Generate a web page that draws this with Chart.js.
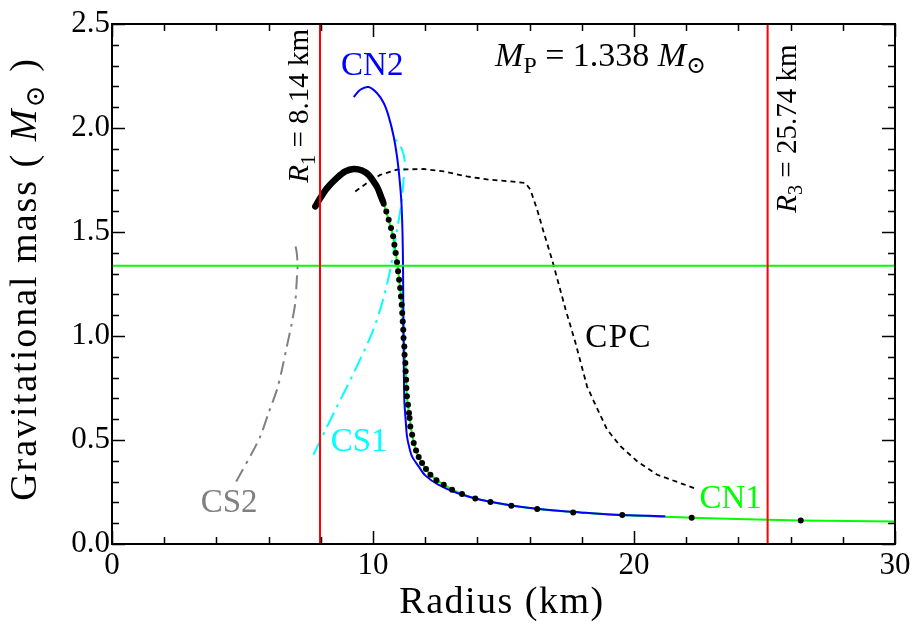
<!DOCTYPE html>
<html><head><meta charset="utf-8">
<script src="https://cdn.jsdelivr.net/npm/chart.js@4/dist/chart.umd.min.js"></script>
<style>html,body{margin:0;padding:0;background:#fff}</style>
</head><body>
<canvas id="c" width="921" height="630"></canvas>
<script>
// ---- data (radius in km, gravitational mass in solar masses) ----
const xTickValues = [0, 10, 20, 30];
const yTickValues = [0.0, 0.5, 1.0, 1.5, 2.0, 2.5];
const R1 = 7.97;      // vertical red line R1 (as drawn)
const R3 = 25.12;     // vertical red line R3 (as drawn)
const MP = 1.338;     // pulsar mass line

const cn2R = [9.26, 9.51, 9.83, 10.15, 10.41, 10.6, 10.79, 10.92, 11.02, 11.09, 11.13, 11.15, 11.17, 11.2, 11.26, 11.3, 11.38, 11.5, 11.75, 12.0, 12.5, 13.22, 14.12, 15.39, 16.67, 17.95, 19.23, 21.2];
const cn2M = [2.149, 2.184, 2.197, 2.168, 2.12, 2.056, 1.96, 1.863, 1.751, 1.639, 1.5, 1.335, 1.014, 0.694, 0.58, 0.52, 0.47, 0.42, 0.373, 0.33, 0.285, 0.245, 0.213, 0.184, 0.165, 0.152, 0.141, 0.133];

const cn1R = [10.3, 10.41, 10.6, 10.77, 10.92, 11.04, 11.12, 11.17, 11.24, 11.3, 11.38, 11.5, 11.65, 11.88, 12.2, 12.71, 13.41, 14.5, 16.29, 19.55, 22.21, 26.39, 30];
const cn1M = [1.675, 1.636, 1.559, 1.479, 1.354, 1.231, 1.11, 0.99, 0.87, 0.71, 0.63, 0.525, 0.45, 0.389, 0.333, 0.285, 0.24, 0.202, 0.168, 0.139, 0.126, 0.113, 0.108];

const denseR = [7.79, 7.98, 8.24, 8.62, 8.94, 9.26, 9.58, 9.83, 10.02, 10.18, 10.28, 10.38];
const denseM = [1.623, 1.663, 1.711, 1.76, 1.791, 1.803, 1.796, 1.775, 1.743, 1.711, 1.679, 1.647];

const dotR = [10.41,10.51,10.6,10.69,10.77,10.82,10.87,10.92,10.96,11.0,11.04,11.07,11.1,11.12,11.14,11.16,11.17,11.2,11.21,11.24,11.25,11.27,11.28,11.3,11.34,11.38,11.4,11.43,11.5,11.56,11.65,11.75,11.88,12.03,12.2,12.43,12.71,13.03,13.41,13.92,14.5,15.3,16.29,17.67,19.55,22.21,26.39];
const dotM = [1.636,1.599,1.559,1.519,1.479,1.439,1.399,1.354,1.311,1.271,1.231,1.19,1.15,1.11,1.07,1.03,0.99,0.95,0.91,0.87,0.83,0.79,0.75,0.71,0.67,0.63,0.606,0.565,0.525,0.486,0.45,0.418,0.389,0.36,0.333,0.306,0.285,0.261,0.24,0.219,0.202,0.184,0.168,0.152,0.139,0.126,0.113];

const cpcR = [9.32, 9.77, 10.28, 10.92, 11.94, 12.71, 13.6, 14.5, 15.27, 15.84, 16.03, 16.29, 16.55, 16.86, 17.38, 17.76, 18.2, 18.46, 18.97, 19.49, 20.13, 20.89, 22.3];
const cpcM = [1.695, 1.736, 1.775, 1.8, 1.803, 1.791, 1.767, 1.751, 1.743, 1.736, 1.703, 1.607, 1.495, 1.367, 1.127, 0.966, 0.758, 0.686, 0.55, 0.469, 0.397, 0.333, 0.269];

const cs1R = [7.72, 8.43, 9.26, 9.96, 10.35, 10.66, 10.92, 11.08, 11.17, 11.22, 11.1, 10.83];
const cs1M = [0.429, 0.613, 0.822, 1.014, 1.159, 1.319, 1.511, 1.63, 1.75, 1.84, 1.9, 1.952];

const cs2R = [4.76, 5.36, 5.68, 6.0, 6.32, 6.51, 6.7, 6.89, 7.02, 7.08, 7.11, 7.08, 7.02];
const cs2M = [0.301, 0.437, 0.517, 0.63, 0.742, 0.838, 0.95, 1.063, 1.159, 1.271, 1.335, 1.399, 1.439];

const pts = (xs, ys) => xs.map((x, i) => ({x, y: ys[i]}));
const SERIF = '"Liberation Serif", "DejaVu Serif", serif';

// rich text: segments {t, it, sub}
function setFont(ctx, s, size) {
  const fs = s.sub ? size * 0.7 : size;
  ctx.font = `${s.it ? 'italic ' : ''}${fs}px ${SERIF}`;
}
function drawRich(ctx, segs, x, y, size, color, align, rot, spacing) {
  ctx.save();
  ctx.translate(x, y);
  if (rot) ctx.rotate(rot);
  ctx.letterSpacing = (spacing || 0) + 'px';
  let w = 0;
  for (const s of segs) { setFont(ctx, s, size); w += ctx.measureText(s.t).width; }
  let cx = align === 'center' ? -w / 2 : 0;
  ctx.fillStyle = color;
  ctx.textBaseline = 'alphabetic';
  ctx.textAlign = 'left';
  for (const s of segs) {
    setFont(ctx, s, size);
    ctx.fillText(s.t, cx, s.sub ? size * 0.22 : 0);
    cx += ctx.measureText(s.t).width;
  }
  ctx.restore();
}

const decor = {
  id: 'decor',
  afterDraw(chart) {
    const ctx = chart.ctx, a = chart.chartArea;
    const xs = chart.scales.x, ys = chart.scales.y;
    ctx.save();
    ctx.strokeStyle = '#000';
    ctx.lineWidth = 2;
    ctx.strokeRect(a.left, a.top, a.right - a.left, a.bottom - a.top);
    ctx.lineWidth = 1.5;
    ctx.beginPath();
    for (let v = 0; v <= 30; v += 2) {
      const px = Math.round(xs.getPixelForValue(v)) + 0.5;
      const L = (v % 10 === 0) ? 13 : 7;
      ctx.moveTo(px, a.bottom); ctx.lineTo(px, a.bottom - L);
      ctx.moveTo(px, a.top); ctx.lineTo(px, a.top + L);
    }
    for (let k = 0; k <= 25; k++) {
      const v = k / 10;
      const py = Math.round(ys.getPixelForValue(v)) + 0.5;
      const L = (k % 5 === 0) ? 13 : 7;
      ctx.moveTo(a.left, py); ctx.lineTo(a.left + L, py);
      ctx.moveTo(a.right, py); ctx.lineTo(a.right - L, py);
    }
    ctx.stroke();
    ctx.restore();

    const X = v => xs.getPixelForValue(v), Y = v => ys.getPixelForValue(v);
    drawRich(ctx, [{t: 'CN2'}], X(9.97), Y(2.256), 33, '#0000ff', 'center');
    drawRich(ctx, [{t: 'M', it: 1}, {t: 'P', sub: 1}, {t: ' = 1.338 '}, {t: 'M', it: 1}, {t: '\u2299', sub: 1}], X(18.72), Y(2.30), 34, '#000', 'center');
    drawRich(ctx, [{t: 'CS1'}], X(9.47), Y(0.449), 33, '#00ffff', 'center');
    drawRich(ctx, [{t: 'CS2'}], X(4.49), Y(0.155), 33, '#808080', 'center');
    drawRich(ctx, [{t: 'CPC'}], X(19.41), Y(0.949), 33, '#000', 'center', 0, 1.5);
    drawRich(ctx, [{t: 'CN1'}], X(23.7), Y(0.175), 33, '#00ff00', 'center');
    drawRich(ctx, [{t: 'R', it: 1}, {t: '1', sub: 1}, {t: ' = 8.14 km'}], X(7.52), Y(2.107), 29, '#000', 'center', -Math.PI / 2);
    drawRich(ctx, [{t: 'R', it: 1}, {t: '3', sub: 1}, {t: ' = 25.74 km'}], X(26.2), Y(1.997), 29, '#000', 'center', -Math.PI / 2);
    // axis titles
    drawRich(ctx, [{t: 'Radius (km)'}], 502, 613, 38, '#000', 'center', 0, 1.5);
    drawRich(ctx, [{t: 'Gravitational mass ( '}, {t: 'M', it: 1}, {t: '\u2299', sub: 1}, {t: ' )'}], 36, 279, 38, '#000', 'center', -Math.PI / 2, 2);
  }
};

const line = (data, color, width, dash, order) => ({
  data, showLine: true, borderColor: color, backgroundColor: color, borderWidth: width,
  borderDash: dash || [], pointRadius: 0, tension: 0, order, fill: false
});

new Chart(document.getElementById('c'), {
  type: 'scatter',
  data: {
    datasets: [
      line([{x: R1, y: 0}, {x: R1, y: 2.5}], '#ff0000', 2, null, 1),
      line([{x: R3, y: 0}, {x: R3, y: 2.5}], '#ff0000', 2, null, 1),
      line([{x: 0, y: MP}, {x: 30, y: MP}], '#00ff00', 2, null, 2),
      {data: pts(dotR, dotM), showLine: false, pointRadius: 3, pointBackgroundColor: '#000', pointBorderWidth: 0, order: 3},
      Object.assign(line(pts(denseR, denseM), '#000', 6.5, null, 3), {borderCapStyle: 'round', borderJoinStyle: 'round', tension: 0.3}),
      Object.assign(line(pts(cn2R, cn2M), '#0000ff', 2, null, 4), {tension: 0.3}),
      Object.assign(line(pts(cn1R, cn1M), '#00ff00', 2, null, 5), {tension: 0.3}),
      line(pts(cpcR, cpcM), '#000', 1.8, [5, 4], 6),
      Object.assign(line(pts(cs1R, cs1M), '#00ffff', 2, [16, 6, 3, 6], 7), {tension: 0.3}),
      Object.assign(line(pts(cs2R, cs2M), '#808080', 2, [14, 6, 3, 6], 8), {tension: 0.3})
    ]
  },
  options: {
    responsive: false, animation: false, devicePixelRatio: 1,
    layout: {padding: {top: 24, right: 26, left: 0, bottom: 0}},
    plugins: {legend: {display: false}, tooltip: {enabled: false}},
    events: [],
    scales: {
      x: {
        type: 'linear', min: 0, max: 30,
        afterBuildTicks: s => { s.ticks = xTickValues.map(v => ({value: v})); },
        ticks: {color: '#000', font: {family: SERIF, size: 31}, padding: 3, maxRotation: 0, autoSkip: false},
        grid: {display: false, drawTicks: false}, border: {display: false},
        afterFit: s => { s.height = 86; }
      },
      y: {
        type: 'linear', min: 0, max: 2.5,
        afterBuildTicks: s => { s.ticks = yTickValues.map(v => ({value: v})); },
        ticks: {color: '#000', font: {family: SERIF, size: 31}, padding: 2, autoSkip: false, callback: v => Number(v).toFixed(1)},
        grid: {display: false, drawTicks: false}, border: {display: false},
        afterFit: s => { s.width = 112; }
      }
    }
  },
  plugins: [decor]
});
</script>
</body></html>
